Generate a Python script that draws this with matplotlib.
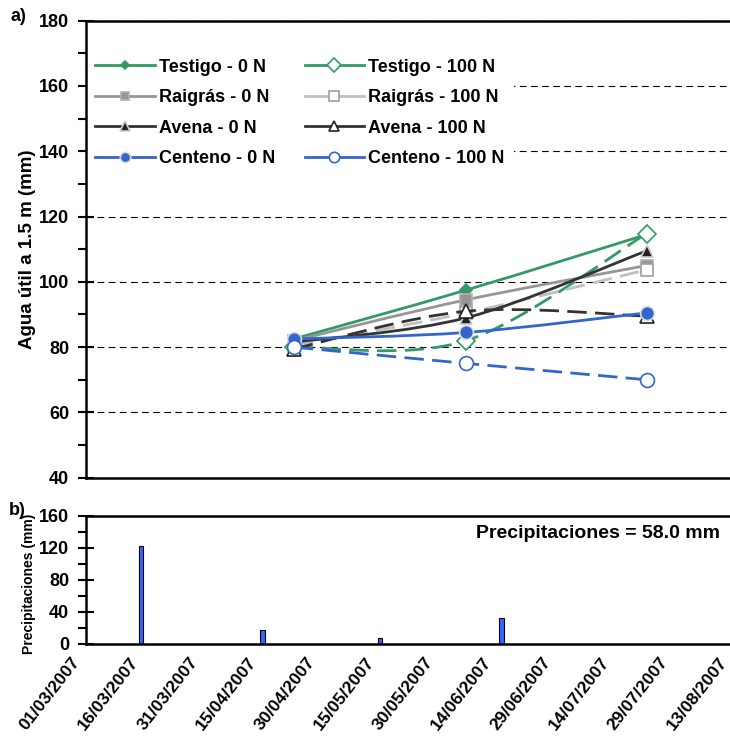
import numpy as np
import pandas as pd
import matplotlib
matplotlib.use("Agg")
import matplotlib.pyplot as plt
import matplotlib.dates as mdates
from matplotlib.path import Path
from matplotlib.patches import PathPatch
from matplotlib.lines import Line2D
from matplotlib.ticker import MultipleLocator, FixedLocator, NullFormatter
from matplotlib.transforms import ScaledTranslation

plt.rcParams['font.family'] = ['Liberation Sans', 'DejaVu Sans']
plt.rcParams['font.weight'] = 'bold'

# fechas de muestreo y agua util (mm)
fechas = pd.to_datetime(['2007-04-23', '2007-06-06', '2007-07-22'])
testigo_0 = [82.5, 97.5, 114.5]
testigo_100 = [80.0, 82.0, 114.8]
raigras_0 = [82.0, 94.5, 105.0]
raigras_100 = [80.5, 90.5, 103.7]
avena_0 = [81.5, 89.0, 109.5]
avena_100 = [79.5, 91.0, 89.5]
centeno_0 = [82.5, 84.5, 90.5]
centeno_100 = [80.0, 75.0, 70.0]

# precipitaciones (mm)
lluvia_fechas = pd.to_datetime(['2007-03-15', '2007-04-15', '2007-05-15', '2007-06-15'])
lluvia_mm = [122, 18, 7, 32]

etiquetas_x = pd.date_range('2007-03-01', '2007-08-13', freq='15D')
marcas_x = pd.date_range('2007-03-01', '2007-08-13', freq='30D')

verde = '#339966'
azul = '#3366CC'
oscuro = '#333333'

# (etiqueta, datos, color, linea, marcador, tam, relleno, borde)
series = [
    ('Testigo - 0 N', testigo_0, verde, '-', 'D', 6, verde, verde),
    ('Testigo - 100 N', testigo_100, verde, '--', 'D', 9, 'white', verde),
    ('Raigrás - 0 N', raigras_0, '#969696', '-', 's', 8, '#969696', '#B0B0B0'),
    ('Raigrás - 100 N', raigras_100, '#C0C0C0', '--', 's', 9, 'white', '#A0A0A0'),
    ('Avena - 0 N', avena_0, oscuro, '-', '^', 9, '#222222', '#CCCCCC'),
    ('Avena - 100 N', avena_100, oscuro, '--', '^', 10, 'white', '#222222'),
    ('Centeno - 0 N', centeno_0, azul, '-', 'o', 10, azul, '#DDDDDD'),
    ('Centeno - 100 N', centeno_100, azul, '--', 'o', 10, 'white', azul),
]


def curva_suave(x, y):
    # curva suavizada tipo Excel (Catmull-Rom)
    p = np.column_stack([x, y])
    ext = np.vstack([p[0], p, p[-1]])
    verts = [p[0]]
    codes = [Path.MOVETO]
    for i in range(len(p) - 1):
        c1 = ext[i + 1] + (ext[i + 2] - ext[i]) / 6
        c2 = ext[i + 2] - (ext[i + 3] - ext[i + 1]) / 6
        verts += [c1, c2, p[i + 1]]
        codes += [Path.CURVE4] * 3
    return Path(verts, codes)


fig = plt.figure(figsize=(7.3, 7.39), dpi=100)
ax = fig.add_axes([0.1178, 0.3536, 0.8863, 0.6184])
ax2 = fig.add_axes([0.1178, 0.1286, 0.8863, 0.1732])

x0 = mdates.date2num(pd.Timestamp('2007-03-01'))
x1 = mdates.date2num(pd.Timestamp('2007-08-13'))
xs = mdates.date2num(fechas)

handles = []
for i, (lab, datos, col, ls, mk, ms, fc, ec) in enumerate(series):
    z = 3 + i
    estilo = '-' if ls == '-' else (0, (7, 3))
    patch = PathPatch(curva_suave(xs, datos), facecolor='none', edgecolor=col,
                      lw=2, linestyle=estilo, zorder=z, capstyle='butt')
    ax.add_patch(patch)
    ax.plot(xs, datos, linestyle='none', marker=mk, markersize=ms,
            markerfacecolor=fc, markeredgecolor=ec, markeredgewidth=1.2, zorder=z + 0.5)
    handles.append(Line2D([], [], color=col, lw=2, marker=mk, markersize=ms * 0.75,
                          markerfacecolor=fc, markeredgecolor=ec, markeredgewidth=1.2,
                          label=lab))

orden = [0, 2, 4, 6, 1, 3, 5, 7]
leg = ax.legend([handles[k] for k in orden], [handles[k].get_label() for k in orden],
                ncol=2, loc='upper left', bbox_to_anchor=(0.0, 0.937),
                fontsize=13, handlelength=3.3, handletextpad=0.22,
                columnspacing=1.65, labelspacing=0.75, borderpad=0.5,
                borderaxespad=0, frameon=True, fancybox=False, framealpha=1,
                facecolor='white', edgecolor='none')
leg.set_zorder(1)

ax.set_xlim(x0, x1)
ax.set_ylim(40, 180)
ax.yaxis.set_major_locator(MultipleLocator(20))
ax.yaxis.set_minor_locator(MultipleLocator(10))
ax.grid(axis='y', color='black', lw=0.8, linestyle=(0, (6, 4)))
ax.set_axisbelow(True)
ax.set_ylabel('Agua útil a 1.5 m (mm)', fontsize=13.5, fontweight='bold')
ax.yaxis.set_label_coords(-0.077, 0.5)

ax2.bar(lluvia_fechas, lluvia_mm, width=1.2, color='#3366FF', edgecolor='black', linewidth=0.8)
ax2.set_xlim(x0, x1)
ax2.set_ylim(0, 160)
ax2.yaxis.set_major_locator(MultipleLocator(40))
ax2.yaxis.set_minor_locator(MultipleLocator(20))
ax2.set_ylabel('Precipitaciones (mm)', fontsize=10, fontweight='bold')
ax2.yaxis.set_label_coords(-0.077, 0.47)
ax2.text(0.98, 0.86, 'Precipitaciones = 58.0 mm', transform=ax2.transAxes,
         ha='right', va='center', fontsize=14, fontweight='bold')

for a in (ax, ax2):
    a.spines['right'].set_visible(False)
    for s in ('left', 'bottom', 'top'):
        a.spines[s].set_linewidth(1.8)
    a.xaxis.set_major_locator(FixedLocator(mdates.date2num(etiquetas_x)))
    a.xaxis.set_minor_locator(FixedLocator(mdates.date2num(marcas_x)))
    a.tick_params(axis='x', which='major', length=0, pad=11)
    a.tick_params(axis='x', which='minor', length=7, width=1.8, direction='out')
    a.tick_params(axis='y', which='major', length=11, width=1.5, direction='inout',
                  labelsize=13, pad=6.5)
    a.tick_params(axis='y', which='minor', length=6, width=1.5, direction='out')

ax.xaxis.set_major_formatter(NullFormatter())
ax2.xaxis.set_major_formatter(mdates.DateFormatter('%d/%m/%Y'))
desplaza = ScaledTranslation(-0.09, 0, fig.dpi_scale_trans)
for t in ax2.get_xticklabels():
    t.set_rotation(52)
    t.set_ha('right')
    t.set_va('center')
    t.set_rotation_mode('anchor')
    t.set_fontsize(12.6)
    t.set_fontweight('bold')
    t.set_transform(t.get_transform() + desplaza)

fig.text(0.015, 0.977, 'a)', fontsize=13, fontweight='bold', va='center')
fig.text(0.012, 0.309, 'b)', fontsize=13, fontweight='bold', va='center')

fig.savefig('out.png', dpi=100)
